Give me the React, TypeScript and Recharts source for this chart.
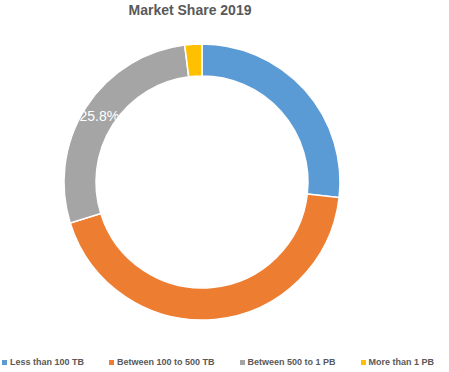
import { PieChart, Pie, Cell, Legend } from 'recharts'

const categories = ['Less than 100 TB', 'Between 100 to 500 TB', 'Between 500 to 1 PB', 'More than 1 PB']
const shares = [26.8, 43.4, 27.8, 2.0]
const labels = ['', '', '25.8%', '']
const colors = ['#5B9BD5', '#ED7D31', '#A5A5A5', '#FFC000']

const data = categories.map((name, i) => ({ name, value: shares[i], label: labels[i] }))

const RADIAN = Math.PI / 180

const renderLabel = (props: any) => {
  const { cx, cy, midAngle, innerRadius, outerRadius, index } = props
  const text = labels[index]
  if (!text) return null
  const r = (innerRadius + outerRadius) / 2
  const x = cx + r * Math.cos(-midAngle * RADIAN)
  const y = cy + r * Math.sin(-midAngle * RADIAN)
  return (
    <text x={x} y={y} fill="#ffffff" fontSize={14} textAnchor="middle" dominantBaseline="central"
      fontFamily="'Liberation Sans', Arial, sans-serif">
      {text}
    </text>
  )
}

// keep legend in category order (payload gets sorted)
const renderLegend = () => (
  <div style={{ display: 'flex', paddingLeft: 2, whiteSpace: 'nowrap', fontFamily: "'Liberation Sans', Arial, sans-serif", fontSize: 9, fontWeight: 'bold', color: '#595959' }}>
    {categories.map((name, i) => (
      <div key={name} style={{ display: 'flex', alignItems: 'center', marginRight: 25 }}>
        <span style={{ width: 5, height: 5, background: colors[i], marginRight: 3, display: 'inline-block' }} />
        <span>{name}</span>
      </div>
    ))}
  </div>
)

export default function App() {
  return (
    <div style={{ position: 'absolute', left: 0, top: 0, width: 449, height: 372, background: '#fff' }}>
      <div style={{ position: 'absolute', left: 0, top: 2, width: 380, textAlign: 'center', fontFamily: "'Liberation Sans', Arial, sans-serif", fontWeight: 'bold', fontSize: 14, color: '#595959' }}>
        Market Share 2019
      </div>
      <PieChart width={449} height={372} margin={{ top: 0, right: 0, bottom: 0, left: 0 }}>
        <Pie
          data={data}
          dataKey="value"
          nameKey="name"
          cx={202}
          cy={182}
          innerRadius={106}
          outerRadius={138}
          startAngle={90}
          endAngle={-270}
          stroke="#ffffff"
          strokeWidth={1.5}
          label={renderLabel}
          labelLine={false}
          isAnimationActive={false}
        >
          {data.map((d, i) => (
            <Cell key={d.name} fill={colors[i]} />
          ))}
        </Pie>
        <Legend
          content={renderLegend}
          verticalAlign="bottom"
          wrapperStyle={{ left: 0, bottom: 5, width: 449 }}
        />
      </PieChart>
    </div>
  )
}
